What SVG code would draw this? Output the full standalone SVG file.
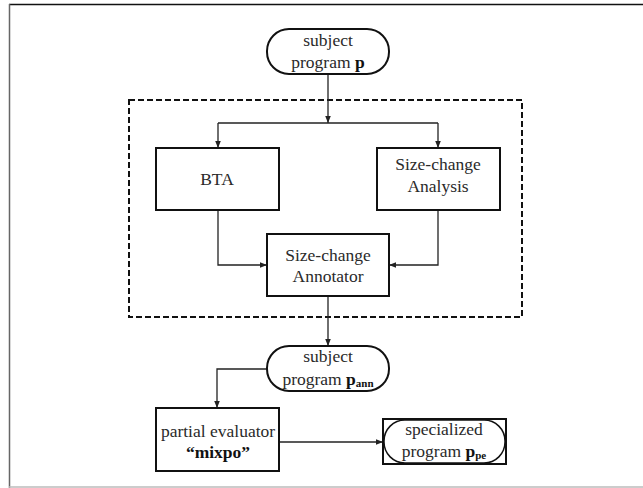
<svg xmlns="http://www.w3.org/2000/svg" width="643" height="488" viewBox="0 0 643 488">
<style>
.box{fill:#fff;stroke:#111;stroke-width:2}
.pill{fill:#fff;stroke:#111;stroke-width:2}
.dash{fill:none;stroke:#111;stroke-width:2;stroke-dasharray:6 3}
.conn{fill:none;stroke:#222;stroke-width:1.3}
text{font-family:'Liberation Serif','DejaVu Serif',serif;font-size:17.5px;fill:#2a2a2a;text-anchor:middle}
.b{font-weight:bold;fill:#111}
</style>
<defs>
<marker id="ah" viewBox="0 0 10 10" refX="10" refY="5" markerWidth="7" markerHeight="7" markerUnits="userSpaceOnUse" orient="auto">
<path d="M0,1 L10,5 L0,9 z" fill="#222"/>
</marker>
</defs>
<rect width="643" height="488" fill="#fff"/>
<g id="frame">
<line x1="9" y1="4.5" x2="643" y2="4.5" stroke="#111" stroke-width="1.5"/>
<line x1="9.5" y1="4" x2="9.5" y2="488" stroke="#666" stroke-width="1.5"/>
<line x1="9" y1="487" x2="643" y2="487" stroke="#bbb" stroke-width="1.5"/>
</g>
<g id="group-box">
<rect class="dash" x="129" y="100" width="393" height="217"/>
</g>
<g id="connectors">
<path class="conn" d="M328,74 V123" marker-end="url(#ah)"/>
<path class="conn" d="M218,123 H438"/>
<path class="conn" d="M218,123 V148" marker-end="url(#ah)"/>
<path class="conn" d="M438,123 V148" marker-end="url(#ah)"/>
<path class="conn" d="M218,210 V265 H267" marker-end="url(#ah)"/>
<path class="conn" d="M438,210 V265 H389" marker-end="url(#ah)"/>
<path class="conn" d="M328,296 V346" marker-end="url(#ah)"/>
<path class="conn" d="M267,369 H217 V408" marker-end="url(#ah)"/>
<path class="conn" d="M279,442 H383" marker-end="url(#ah)"/>
</g>
<g id="subject-program">
<rect class="pill" x="267" y="29" width="122" height="45" rx="22" ry="22"/>
<text x="328" y="46">subject</text>
<text x="328" y="68">program <tspan class="b">p</tspan></text>
</g>
<g id="bta">
<rect class="box" x="156" y="148" width="123" height="62"/>
<text x="217" y="185">BTA</text>
</g>
<g id="size-change-analysis">
<rect class="box" x="377" y="148" width="123" height="62"/>
<text x="438" y="170">Size-change</text>
<text x="438" y="192">Analysis</text>
</g>
<g id="annotator">
<rect class="box" x="267" y="234" width="122" height="62"/>
<text x="328" y="261">Size-change</text>
<text x="328" y="282">Annotator</text>
</g>
<g id="subject-program-ann">
<rect class="pill" x="267" y="346" width="122" height="45" rx="22" ry="22"/>
<text x="328" y="362">subject</text>
<text x="328" y="385">program <tspan class="b">p</tspan><tspan class="b" font-size="11" dy="2">ann</tspan></text>
</g>
<g id="mixpo">
<rect class="box" x="156" y="408" width="123" height="63"/>
<text x="218" y="437">partial evaluator</text>
<text x="218" y="458" class="b">“mixpo”</text>
</g>
<g id="specialized">
<rect class="box" x="383" y="419" width="123" height="45"/>
<rect fill="none" stroke="#111" stroke-width="1.5" x="384" y="420" width="121" height="43" rx="21" ry="21"/>
<text x="444" y="435">specialized</text>
<text x="444" y="457">program  <tspan class="b">p</tspan><tspan class="b" font-size="11" dy="2">pe</tspan></text>
</g>
</svg>
